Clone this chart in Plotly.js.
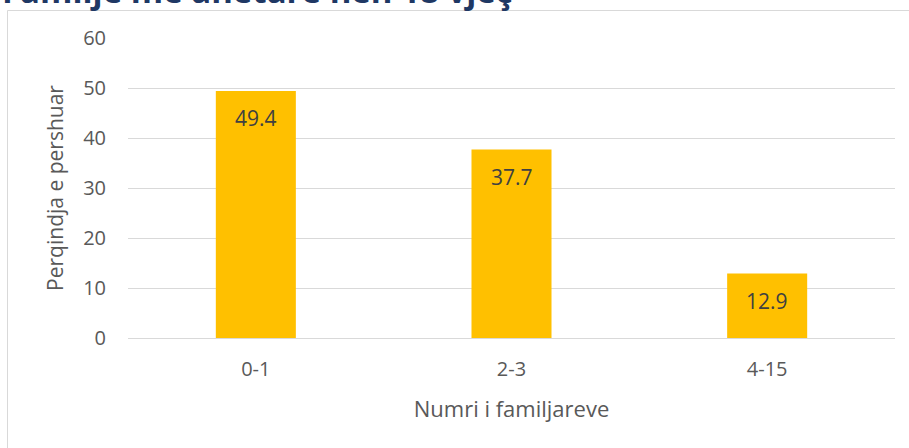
<!DOCTYPE html>
<html>
<head>
<meta charset="utf-8">
<script src="https://cdn.plot.ly/plotly-3.0.1.min.js"></script>
<style>
html,body{margin:0;padding:0;background:#fff;}
#chart{width:909px;height:448px;}
</style>
</head>
<body>
<div id="chart"></div>
<script>
const categories = ["0-1", "2-3", "4-15"];
const values = [49.4, 37.7, 12.9];
const valueLabels = ["49.4", "37.7", "12.9"];
const yTicks = [0, 10, 20, 30, 40, 50, 60];
const chartTitle = "Familje me anetare nen 18 vjeç";
const xTitle = "Numri i familjareve";
const yTitle = "Perqindja e pershuar";

const W = 909, H = 448;
const m = {l: 128, r: 14, t: 38, b: 110};
const pw = W - m.l - m.r, ph = H - m.t - m.b;
const px2x = p => (p - m.l) / pw;
const py2y = p => (H - m.b - p) / ph;

const font = "Open Sans, DejaVu Sans, sans-serif";

const trace = {
  type: "bar",
  x: categories,
  y: values,
  marker: {color: "#FFC000"},
  hoverinfo: "skip",
  width: 0.313
};

const labelAnns = categories.map((c, i) => ({
  x: c, y: values[i], xref: "x", yref: "y",
  text: valueLabels[i], showarrow: false,
  yanchor: "middle", yshift: -27,
  font: {family: font, size: 21, color: "#404040"}
}));

const layout = {
  width: W, height: H,
  margin: m,
  paper_bgcolor: "#ffffff",
  plot_bgcolor: "#ffffff",
  showlegend: false,
  font: {family: font, color: "#595959"},
  xaxis: {
    type: "category",
    range: [-0.5, 2.5],
    showgrid: false,
    showline: false,
    zeroline: false,
    ticks: "outside",
    ticklen: 13,
    tickcolor: "rgba(0,0,0,0)",
    tickfont: {size: 20, color: "#595959"},
    title: {text: xTitle, font: {size: 22, color: "#595959"}, standoff: 20}
  },
  yaxis: {
    range: [0, 60],
    tickvals: yTicks,
    showgrid: true,
    gridcolor: "#d9d9d9",
    gridwidth: 1,
    zeroline: true,
    zerolinecolor: "#d9d9d9",
    showline: false,
    ticks: "outside",
    ticklen: 17,
    tickcolor: "rgba(0,0,0,0)",
    tickfont: {size: 20, color: "#595959"},
    title: {text: yTitle, font: {size: 21, color: "#595959"}, standoff: 13}
  },
  shapes: [{
    type: "rect", xref: "paper", yref: "paper",
    x0: px2x(7.5), x1: px2x(1000), y0: py2y(10.5), y1: py2y(500),
    line: {color: "#d9d9d9", width: 1}, fillcolor: "rgba(0,0,0,0)", layer: "below"
  }],
  annotations: labelAnns.concat([{
    xref: "paper", yref: "paper",
    x: px2x(0), y: py2y(-10),
    xanchor: "left", yanchor: "middle",
    text: "<b>" + chartTitle + "</b>", showarrow: false,
    font: {family: font, size: 33, color: "#1F3864"}
  }])
};

Plotly.newPlot("chart", [trace], layout, {displayModeBar: false, staticPlot: true});
</script>
</body>
</html>
